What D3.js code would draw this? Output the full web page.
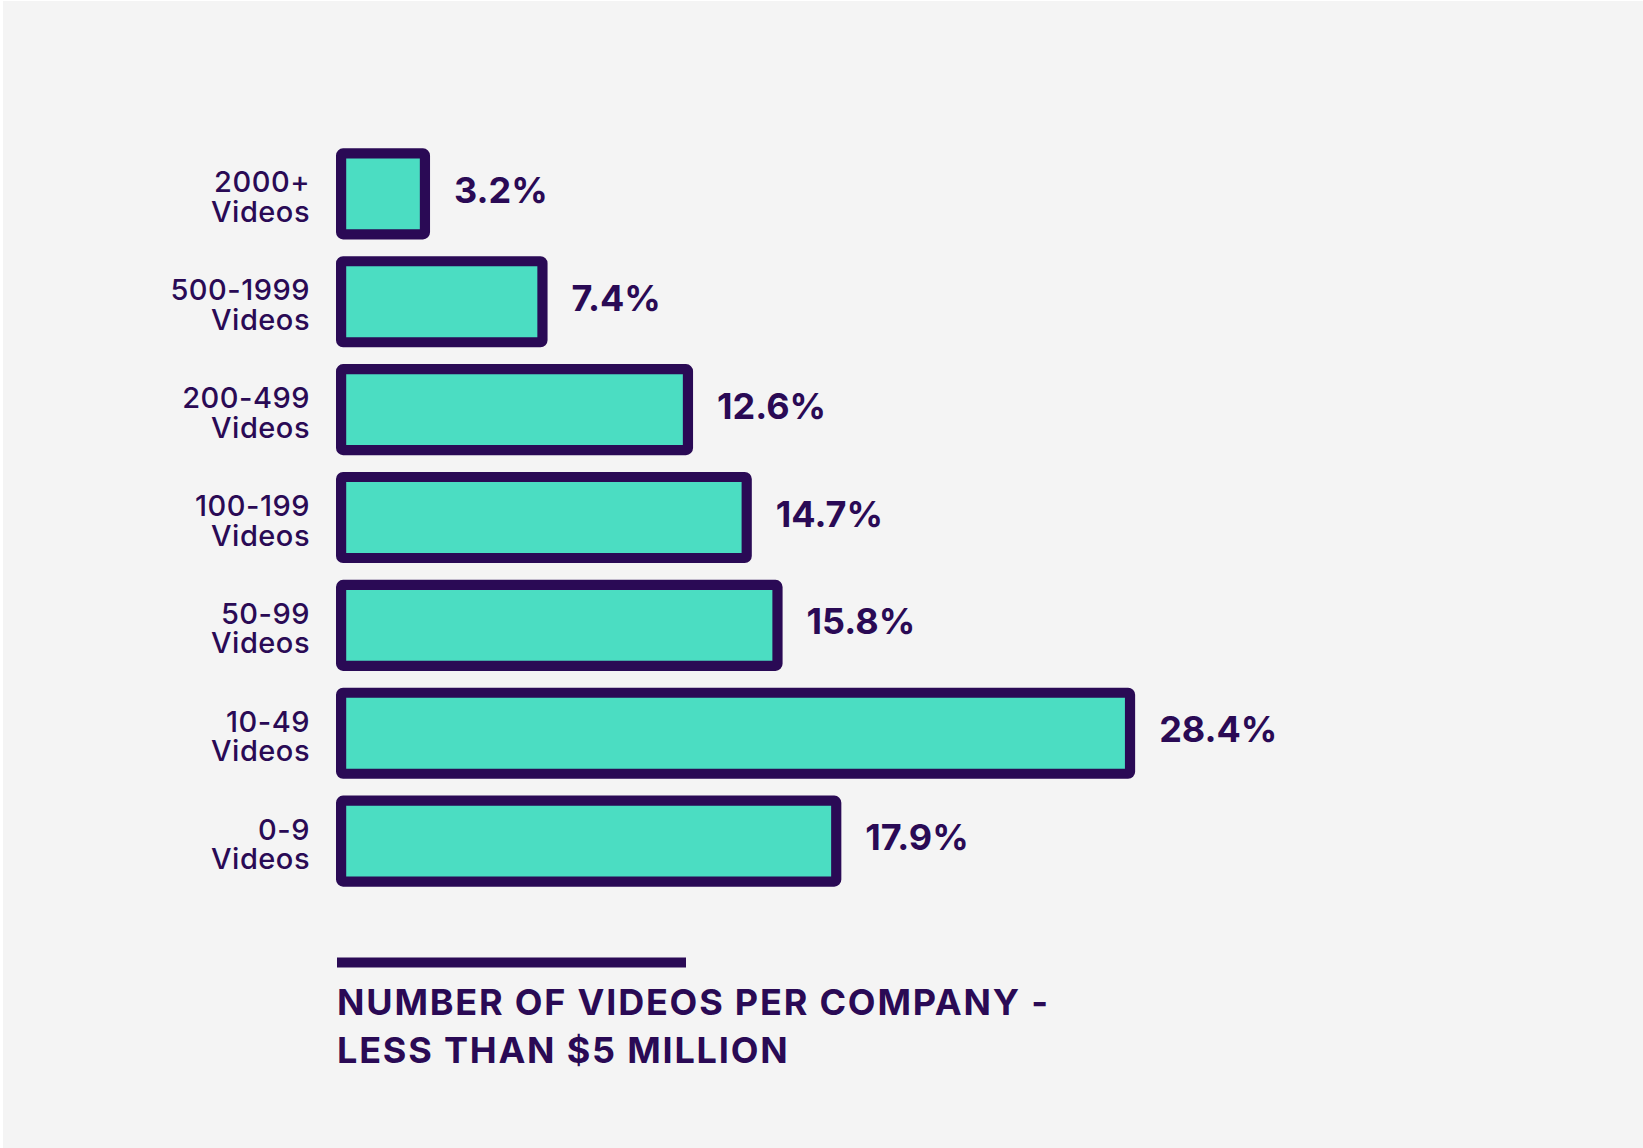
<!DOCTYPE html>
<html>
<head>
<meta charset="utf-8">
<script src="https://cdn.jsdelivr.net/npm/d3@7"></script>
<style>
  body { margin: 0; background: #ffffff; }
  text { font-family: Inter, "Noto Sans", sans-serif; }
</style>
</head>
<body>
<div id="chart"></div>
<script>
var width = 1643,
    height = 1148;

// categories, top to bottom
var ranges = ["2000+", "500-1999", "200-499", "100-199", "50-99", "10-49", "0-9"];
var shares = [3.2, 7.4, 12.6, 14.7, 15.8, 28.4, 17.9];
var valueLabels = ["3.2%", "7.4%", "12.6%", "14.7%", "15.8%", "28.4%", "17.9%"];
var titleLines = ["NUMBER OF VIDEOS PER COMPANY -", "LESS THAN $5 MILLION"];

var purple = "#2a0a55",
    teal = "#4bddc2",
    sw = 10.2;

var svg = d3.select("#chart").append("svg")
    .attr("width", width)
    .attr("height", height);

svg.append("rect")
    .attr("x", 3).attr("y", 1)
    .attr("width", width - 3).attr("height", height - 1)
    .attr("fill", "#f4f4f4");

var y = d3.scaleBand()
    .domain(ranges)
    .range([148.3, 886.7])
    .paddingInner(0.155)
    .paddingOuter(0);

var x = d3.scaleLinear()
    .domain([0, 30])
    .range([0, 839.4]);

var left = 336;

var rows = svg.selectAll("g.row")
    .data(ranges.map(function(r, i) { return {range: r, value: shares[i], label: valueLabels[i]}; }))
    .enter().append("g")
    .attr("class", "row");

rows.append("rect")
    .attr("x", left + sw / 2)
    .attr("y", function(d) { return y(d.range) + sw / 2; })
    .attr("width", function(d) { return x(d.value) + 4.5 - sw; })
    .attr("height", y.bandwidth() - sw)
    .attr("rx", 2)
    .attr("fill", teal)
    .attr("stroke", purple)
    .attr("stroke-width", sw);

var cat = rows.append("text")
    .attr("text-anchor", "end")
    .attr("fill", purple)
    .style("font-size", "29px")
    .style("font-weight", 500)
    .style("letter-spacing", "0.5px");

cat.append("tspan")
    .attr("x", 310)
    .attr("y", function(d) { return y(d.range) + y.bandwidth() / 2 - 1.5; })
    .text(function(d) { return d.range; });

cat.append("tspan")
    .attr("x", 310)
    .attr("y", function(d) { return y(d.range) + y.bandwidth() / 2 + 28; })
    .text("Videos");

rows.append("text")
    .attr("x", function(d) { return left + x(d.value) + 4.5 + 24; })
    .attr("y", function(d) { return y(d.range) + y.bandwidth() / 2 + 9; })
    .attr("fill", purple)
    .style("font-size", "36px")
    .style("font-weight", 700)
    .text(function(d) { return d.label; });

// rule above the axis title
svg.append("rect")
    .attr("x", 337)
    .attr("y", 957.5)
    .attr("width", 349)
    .attr("height", 10)
    .attr("fill", purple);

svg.selectAll("text.title")
    .data(titleLines)
    .enter().append("text")
    .attr("class", "title")
    .attr("x", 337)
    .attr("y", function(d, i) { return 1015 + i * 48; })
    .attr("fill", purple)
    .style("font-size", "36px")
    .style("font-weight", 700)
    .style("letter-spacing", "1.8px")
    .text(function(d) { return d; });
</script>
</body>
</html>
